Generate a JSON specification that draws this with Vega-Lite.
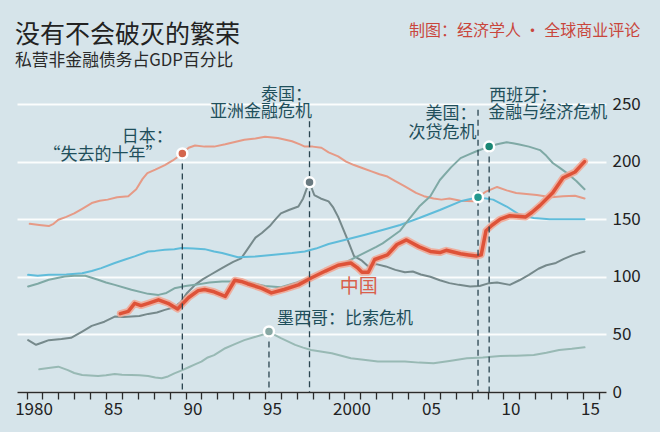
{
  "$schema": "https://vega.github.io/schema/vega-lite/v6.json",
  "width": 589,
  "height": 288,
  "autosize": "none",
  "padding": {"left": 17, "right": 54, "top": 104, "bottom": 40},
  "background": "#d6e4ea",
  "config": {
    "view": {"stroke": null},
    "font": "Noto Sans CJK SC",
    "text": {"font": "Noto Sans CJK SC"}
  },
  "title": {
    "text": "没有不会破灭的繁荣",
    "subtitle": "私营非金融债务占GDP百分比",
    "anchor": "start",
    "frame": "group",
    "font": "Noto Sans CJK SC",
    "subtitleFont": "Noto Sans CJK SC",
    "fontSize": 25,
    "fontWeight": "normal",
    "color": "#222222",
    "subtitleFontSize": 16.8,
    "subtitleColor": "#2a2a2a",
    "subtitlePadding": 5,
    "offset": -46,
    "dx": -2
  },
  "datasets": {
    "series": [
      {"country": "日本", "year": 1980.2, "value": 146}, {"country": "日本", "year": 1980.8, "value": 145}, {"country": "日本", "year": 1981.4, "value": 144}, {"country": "日本", "year": 1981.7, "value": 146}, {"country": "日本", "year": 1982.0, "value": 149.5}, {"country": "日本", "year": 1982.5, "value": 152}, {"country": "日本", "year": 1983.0, "value": 155}, {"country": "日本", "year": 1983.5, "value": 159}, {"country": "日本", "year": 1984.1, "value": 164}, {"country": "日本", "year": 1984.6, "value": 166}, {"country": "日本", "year": 1985.1, "value": 167}, {"country": "日本", "year": 1985.7, "value": 169}, {"country": "日本", "year": 1986.4, "value": 170}, {"country": "日本", "year": 1986.9, "value": 176}, {"country": "日本", "year": 1987.3, "value": 185}, {"country": "日本", "year": 1987.6, "value": 190}, {"country": "日本", "year": 1988.1, "value": 193}, {"country": "日本", "year": 1988.7, "value": 197}, {"country": "日本", "year": 1989.2, "value": 201}, {"country": "日本", "year": 1989.8, "value": 207}, {"country": "日本", "year": 1990.2, "value": 212}, {"country": "日本", "year": 1990.6, "value": 214}, {"country": "日本", "year": 1991.2, "value": 213}, {"country": "日本", "year": 1991.8, "value": 213}, {"country": "日本", "year": 1992.5, "value": 215}, {"country": "日本", "year": 1993.1, "value": 217}, {"country": "日本", "year": 1993.7, "value": 219}, {"country": "日本", "year": 1994.4, "value": 220}, {"country": "日本", "year": 1995.0, "value": 221.5}, {"country": "日本", "year": 1995.8, "value": 220.5}, {"country": "日本", "year": 1996.7, "value": 217.7}, {"country": "日本", "year": 1997.2, "value": 215}, {"country": "日本", "year": 1997.5, "value": 213}, {"country": "日本", "year": 1998.0, "value": 213}, {"country": "日本", "year": 1998.55, "value": 212}, {"country": "日本", "year": 1999.0, "value": 208}, {"country": "日本", "year": 1999.6, "value": 204.6}, {"country": "日本", "year": 2000.1, "value": 200}, {"country": "日本", "year": 2000.6, "value": 197}, {"country": "日本", "year": 2001.2, "value": 194}, {"country": "日本", "year": 2001.7, "value": 191.5}, {"country": "日本", "year": 2002.2, "value": 189}, {"country": "日本", "year": 2002.7, "value": 187}, {"country": "日本", "year": 2003.2, "value": 183}, {"country": "日本", "year": 2003.8, "value": 178.5}, {"country": "日本", "year": 2004.5, "value": 172.8}, {"country": "日本", "year": 2005.0, "value": 170}, {"country": "日本", "year": 2005.6, "value": 168}, {"country": "日本", "year": 2006.1, "value": 167}, {"country": "日本", "year": 2006.6, "value": 168}, {"country": "日本", "year": 2007.3, "value": 166}, {"country": "日本", "year": 2008.1, "value": 165.5}, {"country": "日本", "year": 2008.5, "value": 170}, {"country": "日本", "year": 2008.9, "value": 174}, {"country": "日本", "year": 2009.6, "value": 178}, {"country": "日本", "year": 2010.2, "value": 175}, {"country": "日本", "year": 2010.8, "value": 172.8}, {"country": "日本", "year": 2012.1, "value": 171}, {"country": "日本", "year": 2013.0, "value": 169}, {"country": "日本", "year": 2013.75, "value": 170}, {"country": "日本", "year": 2014.5, "value": 170.4}, {"country": "日本", "year": 2015.1, "value": 168},

      {"country": "泰国", "year": 1980.1, "value": 45}, {"country": "泰国", "year": 1980.6, "value": 41}, {"country": "泰国", "year": 1981.0, "value": 43}, {"country": "泰国", "year": 1981.4, "value": 45}, {"country": "泰国", "year": 1982.2, "value": 46}, {"country": "泰国", "year": 1982.8, "value": 47}, {"country": "泰国", "year": 1983.5, "value": 52.5}, {"country": "泰国", "year": 1984.1, "value": 57.4}, {"country": "泰国", "year": 1984.9, "value": 61}, {"country": "泰国", "year": 1985.55, "value": 65.5}, {"country": "泰国", "year": 1986.1, "value": 65}, {"country": "泰国", "year": 1986.6, "value": 65.5}, {"country": "泰国", "year": 1987.1, "value": 66}, {"country": "泰国", "year": 1987.65, "value": 67.8}, {"country": "泰国", "year": 1988.2, "value": 69}, {"country": "泰国", "year": 1988.7, "value": 71.3}, {"country": "泰国", "year": 1989.3, "value": 73.6}, {"country": "泰国", "year": 1989.7, "value": 78}, {"country": "泰国", "year": 1990.1, "value": 86}, {"country": "泰国", "year": 1990.6, "value": 93}, {"country": "泰国", "year": 1991.1, "value": 98}, {"country": "泰国", "year": 1991.6, "value": 102}, {"country": "泰国", "year": 1992.1, "value": 106}, {"country": "泰国", "year": 1992.6, "value": 110}, {"country": "泰国", "year": 1993.0, "value": 113}, {"country": "泰国", "year": 1993.5, "value": 116}, {"country": "泰国", "year": 1994.0, "value": 126}, {"country": "泰国", "year": 1994.4, "value": 134}, {"country": "泰国", "year": 1994.8, "value": 138}, {"country": "泰国", "year": 1995.3, "value": 144}, {"country": "泰国", "year": 1995.6, "value": 149}, {"country": "泰国", "year": 1996.0, "value": 155}, {"country": "泰国", "year": 1996.5, "value": 158}, {"country": "泰国", "year": 1997.1, "value": 161}, {"country": "泰国", "year": 1997.4, "value": 168}, {"country": "泰国", "year": 1997.6, "value": 175.6}, {"country": "泰国", "year": 1997.8, "value": 182}, {"country": "泰国", "year": 1998.1, "value": 171}, {"country": "泰国", "year": 1998.5, "value": 168}, {"country": "泰国", "year": 1999.0, "value": 165.5}, {"country": "泰国", "year": 1999.3, "value": 160}, {"country": "泰国", "year": 1999.6, "value": 152}, {"country": "泰国", "year": 1999.9, "value": 142}, {"country": "泰国", "year": 2000.2, "value": 132}, {"country": "泰国", "year": 2000.6, "value": 118}, {"country": "泰国", "year": 2001.1, "value": 114}, {"country": "泰国", "year": 2001.5, "value": 109}, {"country": "泰国", "year": 2002.0, "value": 111}, {"country": "泰国", "year": 2002.6, "value": 109}, {"country": "泰国", "year": 2003.2, "value": 106}, {"country": "泰国", "year": 2003.8, "value": 104}, {"country": "泰国", "year": 2004.3, "value": 104.6}, {"country": "泰国", "year": 2004.8, "value": 102}, {"country": "泰国", "year": 2005.4, "value": 100}, {"country": "泰国", "year": 2006.0, "value": 97}, {"country": "泰国", "year": 2006.6, "value": 94.5}, {"country": "泰国", "year": 2007.2, "value": 93}, {"country": "泰国", "year": 2007.9, "value": 91.6}, {"country": "泰国", "year": 2008.5, "value": 92}, {"country": "泰国", "year": 2009.1, "value": 94.5}, {"country": "泰国", "year": 2009.6, "value": 95}, {"country": "泰国", "year": 2010.4, "value": 93}, {"country": "泰国", "year": 2011.0, "value": 97}, {"country": "泰国", "year": 2011.6, "value": 101.7}, {"country": "泰国", "year": 2012.2, "value": 107}, {"country": "泰国", "year": 2012.7, "value": 110}, {"country": "泰国", "year": 2013.3, "value": 112}, {"country": "泰国", "year": 2013.8, "value": 115.5}, {"country": "泰国", "year": 2014.4, "value": 119}, {"country": "泰国", "year": 2015.1, "value": 122},

      {"country": "美国", "year": 1980.1, "value": 101.7}, {"country": "美国", "year": 1980.7, "value": 101}, {"country": "美国", "year": 1981.4, "value": 101.7}, {"country": "美国", "year": 1982.5, "value": 102}, {"country": "美国", "year": 1983.5, "value": 103}, {"country": "美国", "year": 1984.1, "value": 105}, {"country": "美国", "year": 1984.7, "value": 107.5}, {"country": "美国", "year": 1985.55, "value": 112}, {"country": "美国", "year": 1986.2, "value": 115}, {"country": "美国", "year": 1986.8, "value": 117.7}, {"country": "美国", "year": 1987.65, "value": 122}, {"country": "美国", "year": 1988.1, "value": 122.5}, {"country": "美国", "year": 1988.7, "value": 123.5}, {"country": "美国", "year": 1989.3, "value": 124}, {"country": "美国", "year": 1989.75, "value": 125}, {"country": "美国", "year": 1990.5, "value": 124.5}, {"country": "美国", "year": 1991.2, "value": 124}, {"country": "美国", "year": 1991.8, "value": 122}, {"country": "美国", "year": 1992.3, "value": 120.6}, {"country": "美国", "year": 1993.3, "value": 117}, {"country": "美国", "year": 1994.4, "value": 117.7}, {"country": "美国", "year": 1995.4, "value": 119}, {"country": "美国", "year": 1996.7, "value": 120.6}, {"country": "美国", "year": 1997.5, "value": 122}, {"country": "美国", "year": 1998.2, "value": 124.5}, {"country": "美国", "year": 1999.0, "value": 128.5}, {"country": "美国", "year": 2000.0, "value": 132}, {"country": "美国", "year": 2001.3, "value": 136.5}, {"country": "美国", "year": 2002.5, "value": 141}, {"country": "美国", "year": 2003.5, "value": 145}, {"country": "美国", "year": 2004.7, "value": 151}, {"country": "美国", "year": 2006.0, "value": 158}, {"country": "美国", "year": 2007.3, "value": 165.5}, {"country": "美国", "year": 2008.4, "value": 169}, {"country": "美国", "year": 2009.35, "value": 167}, {"country": "美国", "year": 2010.2, "value": 161}, {"country": "美国", "year": 2011.0, "value": 154}, {"country": "美国", "year": 2011.9, "value": 151}, {"country": "美国", "year": 2012.9, "value": 150}, {"country": "美国", "year": 2014.0, "value": 150}, {"country": "美国", "year": 2015.1, "value": 150},

      {"country": "西班牙", "year": 1980.1, "value": 91.6}, {"country": "西班牙", "year": 1980.7, "value": 94}, {"country": "西班牙", "year": 1981.4, "value": 97.4}, {"country": "西班牙", "year": 1982.4, "value": 100.3}, {"country": "西班牙", "year": 1983.0, "value": 101}, {"country": "西班牙", "year": 1983.7, "value": 100.9}, {"country": "西班牙", "year": 1984.5, "value": 97.4}, {"country": "西班牙", "year": 1985.0, "value": 95}, {"country": "西班牙", "year": 1985.55, "value": 93}, {"country": "西班牙", "year": 1986.6, "value": 88.7}, {"country": "西班牙", "year": 1987.65, "value": 85.2}, {"country": "西班牙", "year": 1988.3, "value": 84.3}, {"country": "西班牙", "year": 1988.8, "value": 86}, {"country": "西班牙", "year": 1989.3, "value": 90}, {"country": "西班牙", "year": 1990.0, "value": 92}, {"country": "西班牙", "year": 1990.6, "value": 93}, {"country": "西班牙", "year": 1991.5, "value": 95}, {"country": "西班牙", "year": 1992.3, "value": 96}, {"country": "西班牙", "year": 1993.0, "value": 96}, {"country": "西班牙", "year": 1994.0, "value": 95}, {"country": "西班牙", "year": 1995.0, "value": 92}, {"country": "西班牙", "year": 1996.0, "value": 91}, {"country": "西班牙", "year": 1997.0, "value": 95}, {"country": "西班牙", "year": 1998.0, "value": 100}, {"country": "西班牙", "year": 1999.0, "value": 106}, {"country": "西班牙", "year": 2000.0, "value": 112}, {"country": "西班牙", "year": 2001.0, "value": 119}, {"country": "西班牙", "year": 2002.0, "value": 126}, {"country": "西班牙", "year": 2002.4, "value": 129}, {"country": "西班牙", "year": 2003.0, "value": 135}, {"country": "西班牙", "year": 2003.5, "value": 140}, {"country": "西班牙", "year": 2004.0, "value": 149}, {"country": "西班牙", "year": 2004.7, "value": 161}, {"country": "西班牙", "year": 2005.4, "value": 170}, {"country": "西班牙", "year": 2006.0, "value": 184}, {"country": "西班牙", "year": 2006.7, "value": 195}, {"country": "西班牙", "year": 2007.3, "value": 203}, {"country": "西班牙", "year": 2007.8, "value": 206}, {"country": "西班牙", "year": 2008.3, "value": 209}, {"country": "西班牙", "year": 2009.1, "value": 213}, {"country": "西班牙", "year": 2009.6, "value": 215}, {"country": "西班牙", "year": 2010.2, "value": 216.8}, {"country": "西班牙", "year": 2010.6, "value": 216}, {"country": "西班牙", "year": 2011.0, "value": 214.8}, {"country": "西班牙", "year": 2011.6, "value": 213}, {"country": "西班牙", "year": 2012.3, "value": 210}, {"country": "西班牙", "year": 2012.7, "value": 205}, {"country": "西班牙", "year": 2013.1, "value": 198.8}, {"country": "西班牙", "year": 2013.5, "value": 195}, {"country": "西班牙", "year": 2014.0, "value": 190}, {"country": "西班牙", "year": 2014.6, "value": 183}, {"country": "西班牙", "year": 2015.1, "value": 176},

      {"country": "墨西哥", "year": 1980.8, "value": 19.7}, {"country": "墨西哥", "year": 1981.5, "value": 21}, {"country": "墨西哥", "year": 1982.0, "value": 22}, {"country": "墨西哥", "year": 1982.6, "value": 19}, {"country": "墨西哥", "year": 1983.0, "value": 16.5}, {"country": "墨西哥", "year": 1983.5, "value": 14.8}, {"country": "墨西哥", "year": 1984.5, "value": 13.9}, {"country": "墨西哥", "year": 1985.0, "value": 14.5}, {"country": "墨西哥", "year": 1985.55, "value": 15.6}, {"country": "墨西哥", "year": 1986.0, "value": 15}, {"country": "墨西哥", "year": 1986.6, "value": 14.8}, {"country": "墨西哥", "year": 1987.1, "value": 14.5}, {"country": "墨西哥", "year": 1987.65, "value": 13.9}, {"country": "墨西哥", "year": 1988.1, "value": 12.5}, {"country": "墨西哥", "year": 1988.5, "value": 11.9}, {"country": "墨西哥", "year": 1988.9, "value": 13.5}, {"country": "墨西哥", "year": 1989.3, "value": 16.2}, {"country": "墨西哥", "year": 1989.8, "value": 19}, {"country": "墨西哥", "year": 1990.2, "value": 21.5}, {"country": "墨西哥", "year": 1990.6, "value": 24}, {"country": "墨西哥", "year": 1991.0, "value": 26.4}, {"country": "墨西哥", "year": 1991.4, "value": 30}, {"country": "墨西哥", "year": 1991.8, "value": 32}, {"country": "墨西哥", "year": 1992.5, "value": 38}, {"country": "墨西哥", "year": 1993.1, "value": 41.5}, {"country": "墨西哥", "year": 1993.7, "value": 45}, {"country": "墨西哥", "year": 1994.3, "value": 47.5}, {"country": "墨西哥", "year": 1995.0, "value": 50.4}, {"country": "墨西哥", "year": 1995.25, "value": 52.5}, {"country": "墨西哥", "year": 1995.6, "value": 49.5}, {"country": "墨西哥", "year": 1996.0, "value": 46.7}, {"country": "墨西哥", "year": 1996.5, "value": 43.5}, {"country": "墨西哥", "year": 1996.9, "value": 40.9}, {"country": "墨西哥", "year": 1997.4, "value": 38.5}, {"country": "墨西哥", "year": 1997.9, "value": 36.5}, {"country": "墨西哥", "year": 1998.6, "value": 35}, {"country": "墨西哥", "year": 1999.2, "value": 33.6}, {"country": "墨西哥", "year": 1999.8, "value": 31.5}, {"country": "墨西哥", "year": 2000.4, "value": 29.3}, {"country": "墨西哥", "year": 2001.2, "value": 28}, {"country": "墨西哥", "year": 2002.1, "value": 26.4}, {"country": "墨西哥", "year": 2003.0, "value": 26.5}, {"country": "墨西哥", "year": 2003.8, "value": 26.4}, {"country": "墨西哥", "year": 2004.7, "value": 25.5}, {"country": "墨西哥", "year": 2005.6, "value": 25}, {"country": "墨西哥", "year": 2006.6, "value": 27}, {"country": "墨西哥", "year": 2007.7, "value": 29.3}, {"country": "墨西哥", "year": 2008.7, "value": 30}, {"country": "墨西哥", "year": 2009.8, "value": 31.3}, {"country": "墨西哥", "year": 2010.8, "value": 31.5}, {"country": "墨西哥", "year": 2011.9, "value": 32.2}, {"country": "墨西哥", "year": 2012.7, "value": 34}, {"country": "墨西哥", "year": 2013.5, "value": 36.5}, {"country": "墨西哥", "year": 2014.3, "value": 37.5}, {"country": "墨西哥", "year": 2015.1, "value": 38.8},

      {"country": "中国", "year": 1985.9, "value": 68}, {"country": "中国", "year": 1986.4, "value": 70}, {"country": "中国", "year": 1986.8, "value": 77}, {"country": "中国", "year": 1987.2, "value": 75}, {"country": "中国", "year": 1987.65, "value": 77}, {"country": "中国", "year": 1988.3, "value": 80}, {"country": "中国", "year": 1988.9, "value": 77}, {"country": "中国", "year": 1989.5, "value": 72}, {"country": "中国", "year": 1990.2, "value": 82}, {"country": "中国", "year": 1990.8, "value": 88}, {"country": "中国", "year": 1991.2, "value": 89}, {"country": "中国", "year": 1991.8, "value": 87}, {"country": "中国", "year": 1992.5, "value": 83}, {"country": "中国", "year": 1993.1, "value": 97}, {"country": "中国", "year": 1993.5, "value": 96}, {"country": "中国", "year": 1993.9, "value": 94}, {"country": "中国", "year": 1994.8, "value": 90}, {"country": "中国", "year": 1995.4, "value": 86}, {"country": "中国", "year": 1996.2, "value": 89}, {"country": "中国", "year": 1997.1, "value": 93}, {"country": "中国", "year": 1997.9, "value": 99}, {"country": "中国", "year": 1998.8, "value": 105}, {"country": "中国", "year": 1999.6, "value": 110}, {"country": "中国", "year": 2000.4, "value": 112}, {"country": "中国", "year": 2000.8, "value": 108}, {"country": "中国", "year": 2001.1, "value": 104}, {"country": "中国", "year": 2001.5, "value": 104}, {"country": "中国", "year": 2001.9, "value": 115}, {"country": "中国", "year": 2002.7, "value": 119}, {"country": "中国", "year": 2003.3, "value": 128}, {"country": "中国", "year": 2003.9, "value": 132}, {"country": "中国", "year": 2004.7, "value": 126}, {"country": "中国", "year": 2005.4, "value": 122}, {"country": "中国", "year": 2006.0, "value": 121}, {"country": "中国", "year": 2006.4, "value": 123}, {"country": "中国", "year": 2007.3, "value": 120}, {"country": "中国", "year": 2007.8, "value": 119}, {"country": "中国", "year": 2008.3, "value": 118}, {"country": "中国", "year": 2008.6, "value": 119}, {"country": "中国", "year": 2008.9, "value": 140}, {"country": "中国", "year": 2009.3, "value": 145}, {"country": "中国", "year": 2009.8, "value": 150}, {"country": "中国", "year": 2010.4, "value": 153}, {"country": "中国", "year": 2011.4, "value": 152}, {"country": "中国", "year": 2011.8, "value": 156}, {"country": "中国", "year": 2012.3, "value": 162}, {"country": "中国", "year": 2013.1, "value": 173}, {"country": "中国", "year": 2013.75, "value": 186}, {"country": "中国", "year": 2014.5, "value": 191}, {"country": "中国", "year": 2015.1, "value": 200}
    ],
    "events": [
      {"country": "日本", "year": 1989.8, "value": 207, "top": 207},
      {"country": "墨西哥", "year": 1995.25, "value": 52.5, "top": 52.5},
      {"country": "泰国", "year": 1997.8, "value": 182, "top": 235},
      {"country": "美国", "year": 2008.4, "value": 169, "top": 245},
      {"country": "西班牙", "year": 2009.1, "value": 213, "top": 213}
    ],
    "labels": [
      {"text": "日本：", "year": 1989.2, "value": 221, "side": "right", "kind": "note"},
      {"text": "“失去的十年”", "year": 1988.55, "value": 206, "side": "right", "kind": "note"},
      {"text": "泰国：", "year": 1997.95, "value": 258, "side": "right", "kind": "note"},
      {"text": "亚洲金融危机", "year": 1997.95, "value": 243, "side": "right", "kind": "note"},
      {"text": "美国：", "year": 2008.3, "value": 241, "side": "right", "kind": "note"},
      {"text": "次贷危机", "year": 2008.3, "value": 225, "side": "right", "kind": "note"},
      {"text": "西班牙：", "year": 2009.1, "value": 257, "side": "left", "kind": "note"},
      {"text": "金融与经济危机", "year": 2009.05, "value": 242, "side": "left", "kind": "note"},
      {"text": "墨西哥：比索危机", "year": 1995.75, "value": 63, "side": "left", "kind": "note"},
      {"text": "中国", "year": 1999.7, "value": 91.5, "side": "left", "kind": "china"},
      {"text": "制图：经济学人 · 全球商业评论", "year": 2018.6, "value": 313, "side": "right", "kind": "credit"}
    ]
  },
  "resolve": {"axis": {"x": "independent"}},
  "layer": [
    {
      "data": {"name": "series"},
      "transform": [{"filter": "datum.country != '中国'"}],
      "mark": {"type": "line", "strokeWidth": 2, "strokeJoin": "round", "strokeCap": "round", "clip": false},
      "encoding": {
        "x": {
          "field": "year", "type": "quantitative",
          "scale": {"domain": [1979.4, 2016.45], "nice": false, "zero": false},
          "axis": {
            "orient": "bottom",
            "values": [1980,1981,1982,1983,1984,1985,1986,1987,1988,1989,1990,1991,1992,1993,1994,1995,1996,1997,1998,1999,2000,2001,2002,2003,2004,2005,2006,2007,2008,2009,2010,2011,2012,2013,2014,2015,2016],
            "labels": false,
            "grid": false, "domainColor": "#2b2b2b", "domainWidth": 1.5,
            "tickColor": "#2b2b2b", "tickSize": 7, "tickWidth": 1.3,
            "title": null, "zindex": 1
          }
        },
        "y": {
          "field": "value", "type": "quantitative",
          "scale": {"domain": [0, 250], "nice": false},
          "axis": {
            "orient": "right", "values": [0, 50, 100, 150, 200, 250],
            "grid": true, "gridColor": "#ffffff", "gridWidth": 2, "gridOpacity": 0.9,
            "domain": false, "ticks": false, "labelAlign": "left", "labelPadding": 6,
            "labelFontSize": 17, "labelColor": "#222222", "title": null,
            "labelFont": "Noto Sans CJK SC"
          }
        },
        "color": {
          "field": "country", "type": "nominal", "legend": null,
          "scale": {"domain": ["日本", "泰国", "美国", "西班牙", "墨西哥"], "range": ["#e69a86", "#76898b", "#5fbcda", "#7fa9a5", "#98b9b4"]}
        },
        "detail": {"field": "country"}
      }
    },
    {
      "data": {"name": "series"},
      "transform": [{"filter": "datum.country == '中国'"}],
      "mark": {"type": "line", "strokeWidth": 7, "color": "#f2a491", "opacity": 0.85, "strokeJoin": "round", "strokeCap": "round"},
      "encoding": {
        "x": {
          "field": "year", "type": "quantitative",
          "axis": {
            "orient": "bottom",
            "values": [1980, 1985, 1990, 1995, 2000, 2005, 2010, 2015],
            "labelExpr": "['1980','85','90','95','2000','05','10','15'][round((datum.value - 1980) / 5)]",
            "domain": false, "ticks": false, "grid": false,
            "labelFontSize": 17, "labelColor": "#222222", "labelPadding": 9, "labelOffset": 7,
            "labelOverlap": false, "labelFlush": false, "labelBound": false, "title": null,
            "labelFont": "Noto Sans CJK SC"
          }
        },
        "y": {"field": "value", "type": "quantitative"}
      }
    },
    {
      "data": {"name": "series"},
      "transform": [{"filter": "datum.country == '中国'"}],
      "mark": {"type": "line", "strokeWidth": 3.5, "color": "#de5238", "strokeJoin": "round", "strokeCap": "round"},
      "encoding": {"x": {"field": "year", "type": "quantitative", "axis": null}, "y": {"field": "value", "type": "quantitative"}}
    },
    {
      "data": {"name": "events"},
      "mark": {"type": "rule", "color": "#2a4550", "strokeWidth": 1.3, "strokeDash": [6, 4]},
      "encoding": {
        "x": {"field": "year", "type": "quantitative", "axis": null},
        "y": {"field": "top", "type": "quantitative"},
        "y2": {"datum": 0}
      }
    },
    {
      "data": {"name": "events"},
      "mark": {"type": "point", "filled": true, "size": 100, "stroke": "#ffffff", "strokeWidth": 2.5, "opacity": 1},
      "encoding": {
        "x": {"field": "year", "type": "quantitative", "axis": null},
        "y": {"field": "value", "type": "quantitative"},
        "fill": {
          "field": "country", "type": "nominal", "legend": null,
          "scale": {"domain": ["日本", "泰国", "美国", "西班牙", "墨西哥"], "range": ["#d4664d", "#6a7a80", "#23998f", "#1b8774", "#88a8a4"]}
        }
      }
    },
    {
      "data": {"name": "labels"},
      "transform": [{"filter": "datum.kind == 'note' && datum.side == 'right'"}],
      "mark": {"type": "text", "align": "right", "baseline": "middle", "fontSize": 17, "color": "#1f4f5b", "font": "Noto Sans CJK SC"},
      "encoding": {
        "x": {"field": "year", "type": "quantitative", "axis": null},
        "y": {"field": "value", "type": "quantitative"},
        "text": {"field": "text"}
      }
    },
    {
      "data": {"name": "labels"},
      "transform": [{"filter": "datum.kind == 'note' && datum.side == 'left'"}],
      "mark": {"type": "text", "align": "left", "baseline": "middle", "fontSize": 17, "color": "#1f4f5b", "font": "Noto Sans CJK SC"},
      "encoding": {
        "x": {"field": "year", "type": "quantitative", "axis": null},
        "y": {"field": "value", "type": "quantitative"},
        "text": {"field": "text"}
      }
    },
    {
      "data": {"name": "labels"},
      "transform": [{"filter": "datum.kind == 'china'"}],
      "mark": {"type": "text", "align": "left", "baseline": "middle", "fontSize": 19, "color": "#d9604a", "font": "Noto Sans CJK SC"},
      "encoding": {
        "x": {"field": "year", "type": "quantitative", "axis": null},
        "y": {"field": "value", "type": "quantitative"},
        "text": {"field": "text"}
      }
    },
    {
      "data": {"name": "labels"},
      "transform": [{"filter": "datum.kind == 'credit'"}],
      "mark": {"type": "text", "align": "right", "baseline": "middle", "fontSize": 16, "color": "#c9463c", "font": "Noto Sans CJK SC"},
      "encoding": {
        "x": {"field": "year", "type": "quantitative", "axis": null},
        "y": {"field": "value", "type": "quantitative"},
        "text": {"field": "text"}
      }
    }
  ]
}
